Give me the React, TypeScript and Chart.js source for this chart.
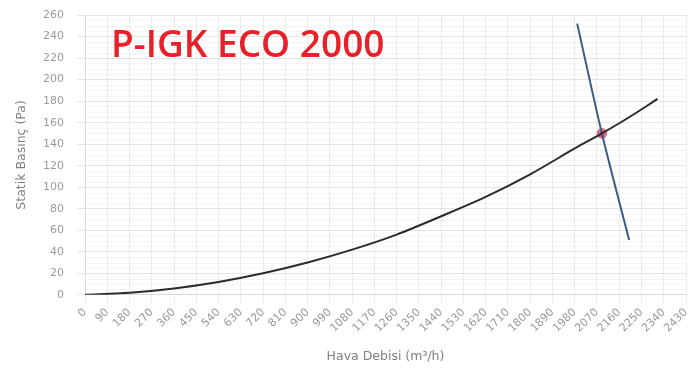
import React, { useEffect, useRef } from "react";
import { Chart, registerables } from "chart.js";

Chart.register(...registerables);

const TITLE = "P-IGK ECO 2000";
const X_TITLE = "Hava Debisi (m³/h)";
const Y_TITLE = "Statik Basınç (Pa)";

// System curve (flow m³/h, static pressure Pa)
const systemFlow = [0, 180, 360, 540, 720, 900, 1080, 1260, 1440, 1620, 1800, 1980, 2090, 2200, 2315];
const systemPressure = [0, 2, 6, 12, 20, 30, 42, 56, 73, 91, 112, 136, 150, 165, 182];

// Fan curve
const fanFlow = [1990, 2090, 2200];
const fanPressure = [252, 150, 51];

// Operating point
const opFlow = [2090];
const opPressure = [150];

const X_MAX = 2430;
const X_STEP = 90;
const Y_MAX = 260;
const Y_STEP = 20;

export default function App() {
  const ref = useRef<HTMLCanvasElement>(null);
  useEffect(() => {
    document.body.style.margin = "0";
    const ctx = ref.current!.getContext("2d")!;
    const minorGrid = {
      id: "minorGrid",
      beforeDatasetsDraw(chart: any) {
        const { ctx: c, chartArea: a, scales } = chart;
        const y = scales.y;
        c.save();
        c.strokeStyle = "rgba(0,0,0,0.04)";
        c.lineWidth = 1;
        for (let v = 0; v <= Y_MAX; v += 5) {
          if (v % Y_STEP === 0) continue;
          const py = Math.round(y.getPixelForValue(v)) + 0.5;
          c.beginPath();
          c.moveTo(a.left, py);
          c.lineTo(a.right, py);
          c.stroke();
        }
        c.restore();
      },
    };
    const tickFont = { size: 11, family: "'DejaVu Sans', sans-serif" };
    const titleFont = { size: 12.5, family: "'DejaVu Sans', sans-serif" };
    const chart = new Chart(ctx, {
      type: "scatter",
      data: {
        datasets: [
          {
            label: "system",
            data: systemFlow.map((x, i) => ({ x, y: systemPressure[i] })),
            showLine: true,
            borderColor: "#2b2b2b",
            borderWidth: 2,
            pointRadius: 0,
            tension: 0.3,
          },
          {
            label: "fan",
            data: fanFlow.map((x, i) => ({ x, y: fanPressure[i] })),
            showLine: true,
            borderColor: "#3b5b86",
            borderWidth: 2,
            pointRadius: 0,
            tension: 0.3,
          },
          {
            label: "op",
            data: opFlow.map((x, i) => ({ x, y: opPressure[i] })),
            pointRadius: 5,
            backgroundColor: "rgba(210,60,90,0.75)",
            borderColor: "rgba(210,60,90,0.4)",
            borderWidth: 1,
          },
        ],
      },
      options: {
        responsive: false,
        animation: false,
        layout: { padding: { top: 15, right: 2, left: 0, bottom: 5 } },
        plugins: { legend: { display: false }, tooltip: { enabled: false } },
        scales: {
          x: {
            type: "linear",
            min: 0,
            max: X_MAX,
            afterFit: (s: any) => {
              s.paddingRight = 0;
              s.paddingLeft = 0;
            },
            ticks: {
              stepSize: X_STEP,
              minRotation: 45,
              maxRotation: 45,
              color: "#9a9a9a",
              font: tickFont,
              autoSkip: false,
              callback: (v: any) => String(v),
            },
            grid: { color: "#ececec" },
            border: { color: "#d8d8d8" },
            title: {
              display: true,
              text: X_TITLE,
              color: "#808080",
              font: titleFont,
              padding: { top: 11, bottom: 0 },
            },
          },
          y: {
            min: 0,
            max: Y_MAX,
            afterFit: (s: any) => {
              s.width = 85;
              s.paddingTop = 0;
              s.paddingBottom = 0;
            },
            ticks: {
              stepSize: Y_STEP,
              color: "#9a9a9a",
              font: tickFont,
              padding: 13,
              callback: (v: any) => String(v),
            },
            grid: { color: "#e4e4e4" },
            border: { color: "#d8d8d8" },
            title: {
              display: true,
              text: Y_TITLE,
              color: "#808080",
              font: titleFont,
              padding: { top: 14, bottom: 0 },
            },
          },
        },
      },
      plugins: [minorGrid],
    });
    return () => chart.destroy();
  }, []);
  return (
    <div style={{ position: "relative", width: 692, height: 369, background: "#fff", overflow: "hidden" }}>
      <canvas ref={ref} width={692} height={369} style={{ display: "block" }} />
      <div
        style={{
          position: "absolute",
          left: 111,
          top: 21,
          color: "#e8202a",
          fontFamily: "'Open Sans', sans-serif",
          fontWeight: 600,
          fontSize: 37,
          lineHeight: "44px",
          whiteSpace: "nowrap",
        }}
      >
        {TITLE}
      </div>
    </div>
  );
}
